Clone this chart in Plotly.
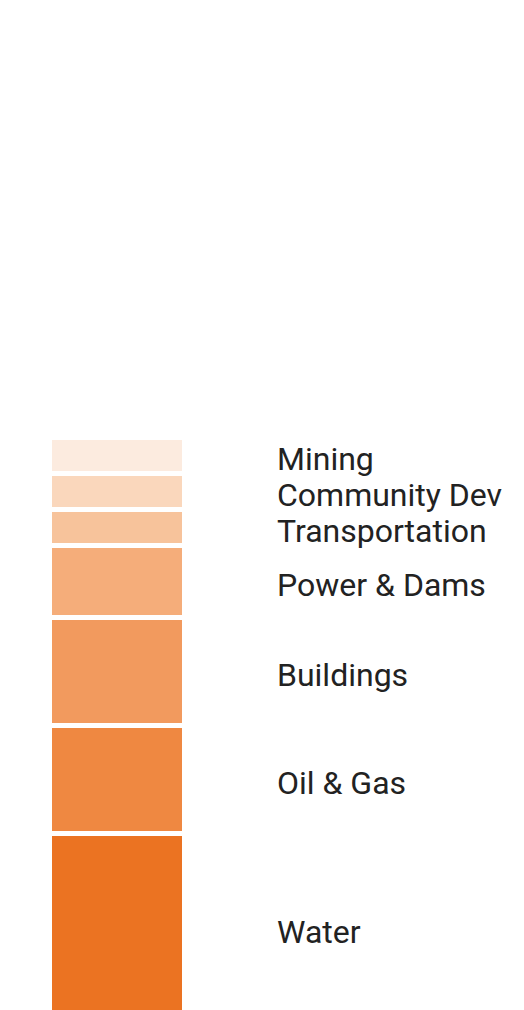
import plotly.graph_objects as go

categories = ["Water", "Oil & Gas", "Buildings", "Power & Dams", "Transportation", "Community Dev", "Mining"]
values = [5.3, 3, 3, 2, 1, 1, 1]
colors = ["#EB7322", "#EF8841", "#F29A5E", "#F5AD7A", "#F7C39B", "#FAD7BC", "#FCEBDF"]

W, H = 516, 1002

fig = go.Figure()
cum = 0
for cat, v, c in zip(categories, values, colors):
    fig.add_trace(go.Bar(
        x=[0], y=[v], width=1, name=cat,
        marker=dict(color=c, line=dict(color="white", width=5)),
        hoverinfo="name+y",
    ))
    fig.add_annotation(
        x=267 / W, xref="paper", xanchor="left",
        y=cum + v / 2, yref="y", yanchor="middle",
        text=cat, showarrow=False, yshift=-3,
        font=dict(family="Roboto", size=32, color="#222222"),
    )
    cum += v

fig.update_layout(
    barmode="stack",
    width=W, height=H,
    margin=dict(l=0, r=0, t=0, b=0),
    paper_bgcolor="white", plot_bgcolor="white",
    showlegend=False,
    xaxis=dict(range=[-0.8074, 3.0148], visible=False, fixedrange=True),
    yaxis=dict(range=[0.411, 28.244], visible=False, fixedrange=True),
)

fig.write_html("out.html")
